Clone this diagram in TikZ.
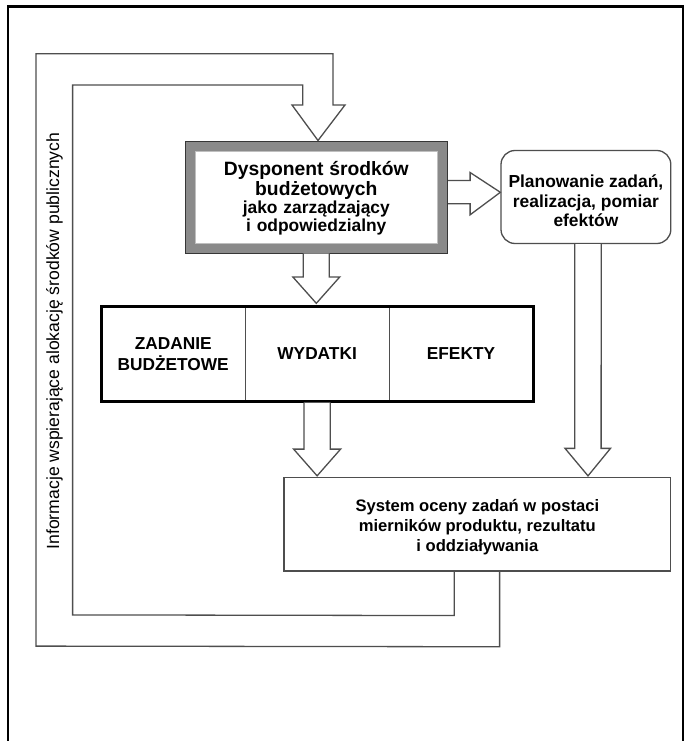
\documentclass[tikz,border=0pt]{standalone}
\usepackage{fontspec}
\setmainfont{Liberation Sans}
\usetikzlibrary{calc}
\definecolor{ln}{HTML}{4E4E4E}
\definecolor{dysgray}{HTML}{8A8A8A}
\definecolor{dysedge}{HTML}{363636}
\begin{document}
\begin{tikzpicture}[x=1pt,y=-1pt,
  fat/.style={draw=ln,line width=1.3pt,fill=white,line join=miter},
  box/.style={draw=ln,line width=1.3pt,fill=white,inner sep=0pt},
  boxtext/.style={font=\fontsize{17.4}{19.7}\selectfont\bfseries,align=center,inner sep=0pt},
  cell/.style={minimum width=144pt,minimum height=94.2pt,inner sep=0pt,
    font=\fontsize{17.3}{20.5}\selectfont\bfseries,align=center},
  divider/.style={draw=ln,line width=1pt}]
\useasboundingbox (0,0) rectangle (690,741);
\fill[white] (0,0) rectangle (690,741);
% outer frame
\draw[line width=2.2pt,black] (8,741) -- (8,6.5) -- (683,6.5) -- (683,741);

% boxes
\node[draw=dysedge,fill=dysgray,line width=1pt,minimum width=262.6pt,minimum height=112pt,inner sep=0pt] (dys) at (316.3,197) {};
\node[draw=black!25,fill=white,line width=0.6pt,minimum width=242.5pt,minimum height=92pt,inner sep=0pt] (dysin) at (dys.center) {};
\node[boxtext,text width=240pt] (dystext) at ($(dys.center)+(0,1.5)$)
  {{\fontsize{19.3}{20.2}\selectfont Dysponent środków\\budżetowych\par}%
   {\fontsize{17.4}{17.9}\selectfont jako zarządzający\\i odpowiedzialny\par}};

\node[box,rounded corners=14pt,minimum width=169.8pt,minimum height=93pt] (plan) at (585.9,197) {};
\node[boxtext] (plantext) at ($(plan.center)+(0,4)$) {Planowanie zadań,\\realizacja, pomiar\\efektów};

\node[draw=black,line width=3pt,fill=white,minimum width=431.8pt,minimum height=94.2pt,inner sep=0pt] (table) at (317.1,353.9) {};
\node[cell] (c1) at (173.2,353.9) {ZADANIE\\BUDŻETOWE};
\node[cell] (c2) at (317.1,353.9) {WYDATKI};
\node[cell] (c3) at (461,353.9) {EFEKTY};
\draw[divider] ($(c1.north east)+(0,1.5)$) -- ($(c1.south east)+(0,-1.5)$);
\draw[divider] ($(c2.north east)+(0,1.5)$) -- ($(c2.south east)+(0,-1.5)$);

\node[box,minimum width=386.9pt,minimum height=93.4pt] (sys) at (477.35,524.2) {};
\node[boxtext,font=\fontsize{16.6}{19.8}\selectfont\bfseries] (systext) at ($(sys.center)+(0,3)$) {System oceny zadań w postaci\\mierników produktu, rezultatu\\i oddziaływania};

% side label
\node[rotate=90,font=\fontsize{17.6}{20}\selectfont,inner sep=0pt] (info) at (54.6,341) {Informacje wspierające alokację środków publicznych};

% fat arrows
\draw[fat] ($(dys.south)+(-13,0)$) -- ++(0,23.4) -- ++(-10.5,0)
  -- ($(dys.south |- table.north)+(0,-2)$)
  -- ($(dys.south)+(23.5,23.4)$) -- ++(-10.5,0) -- ($(dys.south)+(13,0)$);
\draw[fat] ($(table.south)+(-13.2,0)$) -- ++(0,46.6) -- ++(-10.3,0)
  -- ($(table.south |- sys.north)+(0,-1)$)
  -- ($(table.south)+(23.5,46.6)$) -- ++(-10.3,0) -- ($(table.south)+(13.2,0)$);
\draw[fat] ($(plan.south)+(-11.1,0)$) -- ++(0,204.2) -- ++(-9.8,0)
  -- ($(plan.south |- sys.north)+(2.1,-1)$)
  -- ($(plan.south)+(24.6,204.2)$) -- ++(-9.4,0) -- ($(plan.south)+(15.3,0)$);
\draw[fat] ($(dys.east)+(0,-16.5)$) -- ++(22,0) -- ++(0,-8)
  -- ($(plan.west)+(0,-4.7)$)
  -- ($(dys.east)+(22,17.8)$) -- ++(0,-11) -- ($(dys.east)+(0,6.8)$);

% feedback loop arrow
\coordinate (tip) at ($(dys.north)+(1.7,0)$);
\draw[fat,fill=none] ($(sys.south)+(-23.2,0)$) -- ++(0,44) -- (72.6,614.9) -- (72.6,85)
  -- (302.8,85) -- (302.8,105) -- (292,105) -- (tip) -- (345,105) -- (333,105)
  -- (333,53.7) -- (36,53.7) -- (36,646.1) -- ($(sys.south)+(22.25,75.2)$)
  -- ($(sys.south)+(22.25,0)$);
\end{tikzpicture}
\end{document}
